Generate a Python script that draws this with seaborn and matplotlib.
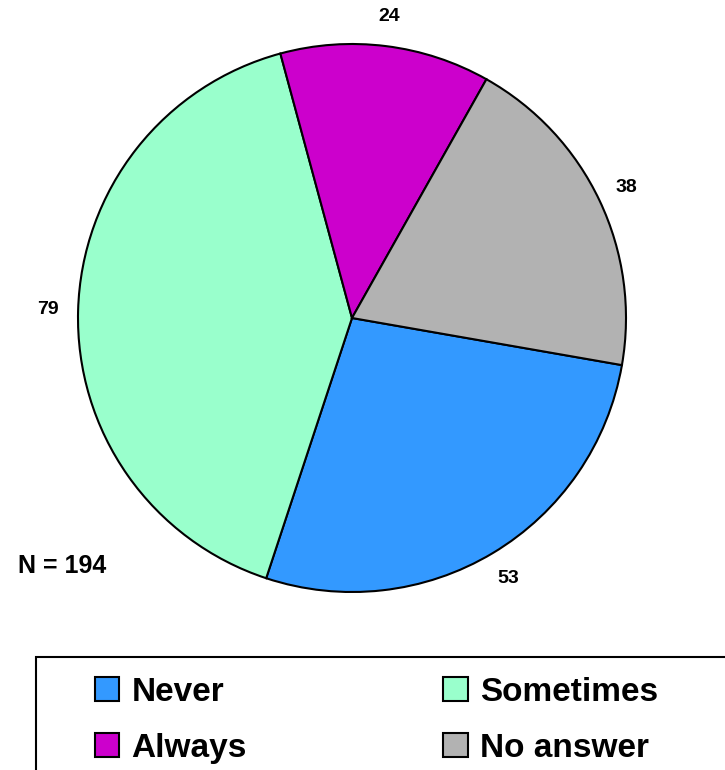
import matplotlib
matplotlib.use("Agg")
import matplotlib.pyplot as plt
from matplotlib.patches import Rectangle, Patch
import seaborn as sns

# Survey responses
categories = ["Never", "Sometimes", "Always", "No answer"]
counts = [53, 79, 24, 38]
colors = ["#3399FF", "#99FFCC", "#CC00CC", "#B2B2B2"]
n_label = "N = 194"

sns.set_theme(style="white")
plt.rcParams["font.family"] = ["Liberation Sans", "DejaVu Sans"]
plt.rcParams["font.weight"] = "bold"
plt.rcParams["text.color"] = "black"

W, H, DPI = 725, 770, 100
fig = plt.figure(figsize=(W / DPI, H / DPI), dpi=DPI)
fig.patch.set_facecolor("white")

# Pie axes: centre (352, 318) px, radius 274 px
cx, cy, r = 352, 318, 274
ax = fig.add_axes([(cx - r) / W, 1 - (cy + r) / H, 2 * r / W, 2 * r / H])

total = sum(counts)
wedges, texts, autotexts = ax.pie(
    counts,
    colors=colors,
    startangle=-9.9,
    counterclock=False,
    autopct=lambda p: f"{round(p * total / 100)}",
    pctdistance=1.11,
    wedgeprops=dict(edgecolor="black", linewidth=1.5),
    textprops=dict(fontsize=14, fontweight="bold", color="black"),
)
ax.set_xlim(-1, 1)
ax.set_ylim(-1, 1)
ax.set_aspect("equal")
for t in autotexts:
    t.set_clip_on(False)

fig.text(62 / W, 1 - 566 / H, n_label, ha="center", va="center",
         fontsize=18, fontweight="bold", color="black")

# Legend frame (runs off the right and bottom edges)
fig.patches.append(Rectangle((36 / W, 1 - 800 / H), 720 / W, 143 / H,
                             transform=fig.transFigure, fill=False,
                             edgecolor="black", linewidth=1.5))

handles = [Patch(facecolor=c, edgecolor="black", linewidth=1.5) for c in colors]
order = [0, 2, 1, 3]
fig.legend([handles[i] for i in order], [categories[i] for i in order],
           ncol=2, loc="upper left", bbox_to_anchor=(95 / W, 1 - 677 / H),
           frameon=False, borderpad=0, borderaxespad=0,
           prop=dict(size=24, weight="bold"), labelcolor="black",
           handlelength=0.73, handleheight=0.73, handletextpad=0.36,
           columnspacing=5.9, labelspacing=0.74)

fig.savefig("out.png", dpi=DPI, facecolor="white")
